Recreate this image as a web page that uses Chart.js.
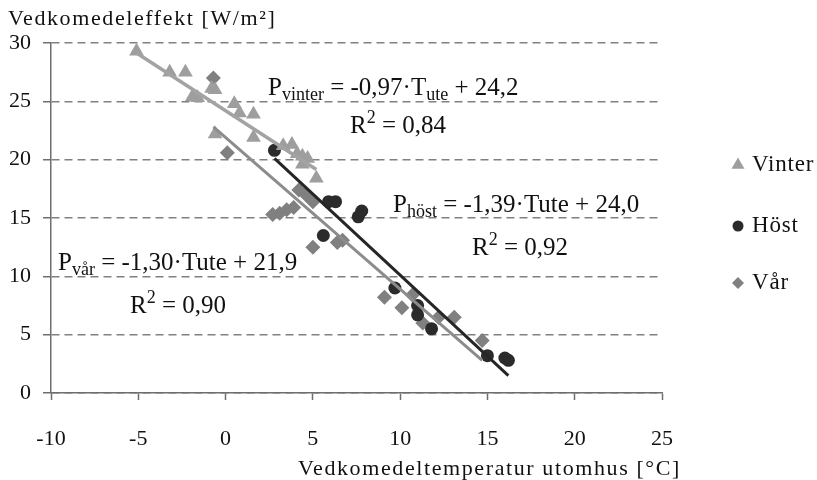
<!DOCTYPE html>
<html>
<head>
<meta charset="utf-8">
<script src="https://cdn.jsdelivr.net/npm/chart.js@4.4.0/dist/chart.umd.min.js"></script>
<style>
  html, body { margin: 0; padding: 0; background: #fff; }
</style>
</head>
<body>
<canvas id="myChart" width="817" height="480"></canvas>
<script>
// weekly mean temperature (°C) and weekly mean power (W/m2)
var vinterT = [-5.1, -3.2, -2.3, -1.9, -1.6, -0.8, -0.6, 0.5, 0.8, 1.6, 1.6, -0.6, 3.3, 3.8, 4.1, 4.4, 4.7, 4.4, 5.2];
var vinterP = [29.3, 27.5, 27.5, 25.4, 25.3, 26.1, 26.0, 24.8, 24.0, 23.9, 21.9, 22.2, 21.2, 21.3, 20.5, 20.3, 20.1, 19.6, 18.4];

var hostT = [2.8, 5.9, 6.3, 7.6, 7.8, 5.6, 9.7, 11.0, 11.0, 11.8, 15.0, 16.0, 16.2];
var hostP = [20.8, 16.4, 16.4, 15.1, 15.6, 13.5, 9.0, 7.5, 6.7, 5.5, 3.2, 3.0, 2.8];

var varT = [-0.7, 0.1, 4.2, 4.6, 2.7, 3.1, 3.5, 3.9, 5.0, 5.0, 6.4, 6.7, 9.1, 10.1, 10.7, 11.3, 12.2, 13.1, 14.7];
var varP = [27.0, 20.6, 17.4, 17.0, 15.3, 15.4, 15.7, 15.9, 16.4, 12.5, 12.9, 13.1, 8.2, 7.3, 8.4, 6.0, 6.5, 6.5, 4.5];

var seriesNames = ['Vinter', 'Höst', 'Vår'];
var slopes = [-0.97, -1.39, -1.30];
var intercepts = [24.2, 24.0, 21.9];
var r2Values = ['0,84', '0,92', '0,90'];

var xTicks = [-10, -5, 0, 5, 10, 15, 20, 25];
var yTicks = [0, 5, 10, 15, 20, 25, 30];

var FONT = "'Liberation Serif', 'DejaVu Serif', serif";
var colors = ['#9e9e9e', '#2b2b2b', '#808080'];
var lineColors = ['#a3a3a3', '#262626', '#8c8c8c'];
var lineWidths = [3.5, 3, 3];
var styles = ['triangle', 'circle', 'rectRot'];
var radii = [8.5, 6.5, 7.5];

function pts(xs, ys) {
  return xs.map(function (x, i) { return { x: x, y: ys[i] }; });
}

function trend(xs, k, m) {
  var a = Math.min.apply(null, xs), b = Math.max.apply(null, xs);
  return [{ x: a, y: k * a + m }, { x: b, y: k * b + m }];
}

function num(v, d) { return v.toFixed(d).replace('.', ','); }

var allT = [vinterT, hostT, varT];
var allP = [vinterP, hostP, varP];

var datasets = [];
for (var i = 0; i < 3; i++) {
  datasets.push({
    label: seriesNames[i],
    type: 'scatter',
    data: pts(allT[i], allP[i]),
    pointStyle: styles[i],
    pointRadius: radii[i],
    pointHoverRadius: radii[i],
    backgroundColor: colors[i],
    borderColor: colors[i],
    borderWidth: 0,
    order: 2
  });
}
for (var j = 0; j < 3; j++) {
  datasets.push({
    label: seriesNames[j] + ' trend',
    type: 'line',
    data: trend(allT[j], slopes[j], intercepts[j]),
    borderColor: lineColors[j],
    borderWidth: lineWidths[j],
    pointRadius: 0,
    fill: false,
    order: 1
  });
}

// text with sub/superscript parts
function richText(ctx, x, y, parts, size) {
  parts.forEach(function (p) {
    var s = p[1] ? Math.round(size * 0.7) : size;
    ctx.font = s + 'px ' + FONT;
    var dy = p[1] === 'sub' ? 5 : (p[1] === 'sup' ? -10 : 0);
    ctx.fillText(p[0], x, y + dy);
    x += ctx.measureText(p[0]).width;
  });
}

var extras = {
  id: 'extras',
  afterDraw: function (chart) {
    var ctx = chart.ctx;
    ctx.save();
    ctx.fillStyle = '#111';
    ctx.textBaseline = 'alphabetic';
    ctx.textAlign = 'left';

    // axis titles
    ctx.font = '22px ' + FONT;
    ctx.letterSpacing = '1.6px';
    ctx.fillText('Vedkomedeleffekt [W/m²]', 8, 25);
    ctx.fillText('Vedkomedeltemperatur utomhus [°C]', 298, 475);
    ctx.letterSpacing = '0px';

    // equations
    var fs = 25;
    richText(ctx, 268, 95, [['P'], ['vinter', 'sub'], [' = ' + num(slopes[0], 2) + '·T'], ['ute', 'sub'], [' + ' + num(intercepts[0], 1)]], fs);
    richText(ctx, 350, 133, [['R'], ['2', 'sup'], [' = ' + r2Values[0]]], fs);
    richText(ctx, 393, 212, [['P'], ['höst', 'sub'], [' = ' + num(slopes[1], 2) + '·Tute + ' + num(intercepts[1], 1)]], fs);
    richText(ctx, 472, 255, [['R'], ['2', 'sup'], [' = ' + r2Values[1]]], fs);
    richText(ctx, 58, 270, [['P'], ['vår', 'sub'], [' = ' + num(slopes[2], 2) + '·Tute + ' + num(intercepts[2], 1)]], fs);
    richText(ctx, 130, 313, [['R'], ['2', 'sup'], [' = ' + r2Values[2]]], fs);

    // legend
    var ly = [165, 226, 283];
    var lr = [7.5, 5.5, 6];
    for (var k = 0; k < 3; k++) {
      ctx.fillStyle = colors[k];
      ctx.strokeStyle = colors[k];
      Chart.helpers.drawPoint(ctx, { pointStyle: styles[k], radius: lr[k], borderWidth: 0 }, 738, ly[k]);
      ctx.fillStyle = '#111';
      ctx.font = '23px ' + FONT;
      ctx.letterSpacing = '0.8px';
      ctx.textBaseline = 'middle';
      ctx.fillText(seriesNames[k], 752, ly[k]);
      ctx.letterSpacing = '0px';
      ctx.textBaseline = 'alphabetic';
    }
    ctx.restore();
  }
};

var ctx = document.getElementById('myChart').getContext('2d');
var chart = new Chart(ctx, {
  type: 'scatter',
  data: { datasets: datasets },
  options: {
    responsive: false,
    animation: false,
    layout: { padding: { top: 43, right: 155, left: 0, bottom: 0 } },
    plugins: { legend: { display: false }, tooltip: { enabled: false } },
    scales: {
      x: {
        type: 'linear',
        min: -10,
        max: 25,
        afterBuildTicks: function (s) { s.ticks = xTicks.map(function (v) { return { value: v }; }); },
        afterFit: function (s) { s.height = 87; },
        ticks: { font: { family: FONT, size: 22 }, color: '#111', padding: 26 },
        grid: { drawOnChartArea: false, drawTicks: true, tickLength: 7, tickColor: '#6e6e6e', tickWidth: 1.5 },
        border: { color: '#6e6e6e', width: 1.5 }
      },
      y: {
        min: 0,
        max: 30,
        afterBuildTicks: function (s) { s.ticks = yTicks.map(function (v) { return { value: v }; }); },
        afterFit: function (s) { s.width = 51; },
        ticks: { font: { family: FONT, size: 22 }, color: '#111', padding: 12 },
        grid: { color: '#808080', lineWidth: 1.5, tickLength: 8, tickColor: '#6e6e6e', tickWidth: 1.5, tickBorderDash: [] },
        border: { color: '#6e6e6e', width: 1.5, dash: [8, 5] }
      }
    }
  },
  plugins: [extras]
});
</script>
</body>
</html>
